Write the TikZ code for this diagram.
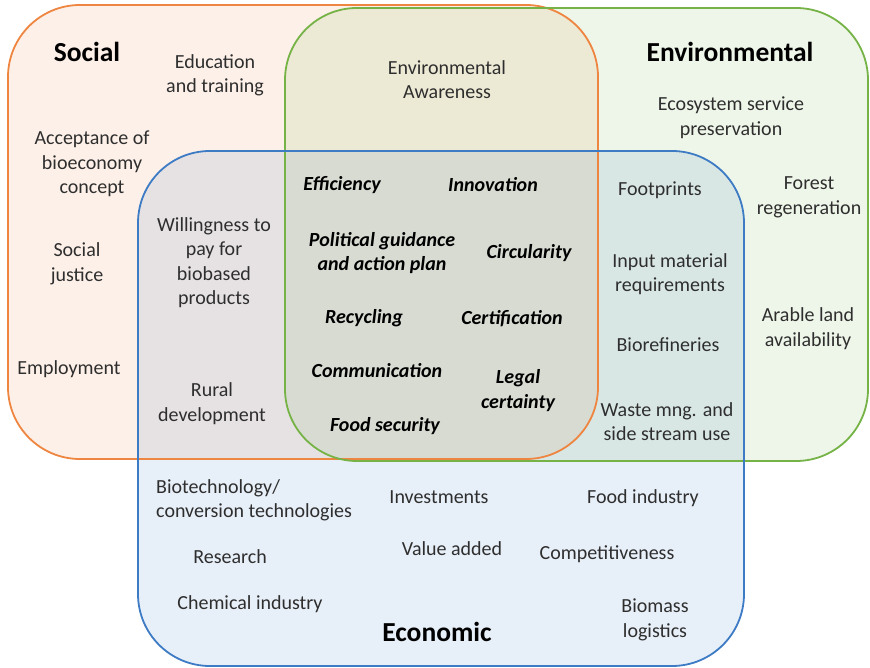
\documentclass[tikz,border=0pt]{standalone}
\usepackage{fontspec}
\setmainfont{Carlito}
\definecolor{socialc}{HTML}{EE8540}
\definecolor{envc}{HTML}{76B347}
\definecolor{econc}{HTML}{3D7BC4}
\definecolor{txt}{HTML}{2E2E2E}
\tikzset{
  area/.style={line width=1.8pt, rounded corners=72pt, fill opacity=0.12},
  item/.style={font=\fontsize{20}{24.5}\selectfont, text=txt, align=center, inner sep=0pt},
  key/.style={font=\fontsize{20}{24.5}\selectfont\bfseries\itshape, text=black, align=center, inner sep=0pt},
  head/.style={font=\fontsize{27.5}{30}\selectfont\bfseries, text=black, inner sep=0pt}
}
\begin{document}
\begin{tikzpicture}[x=1pt,y=-1pt]
\useasboundingbox (0,0) rectangle (870,668);
% translucent areas of the three dimensions
\fill[area, socialc] (8,5) rectangle (598,459);
\fill[area, envc] (285,8) rectangle (868,461);
\fill[area, econc] (138,151) rectangle (744,666);
% outlines
\draw[area, draw=socialc, fill=none] (8,5) rectangle (598,459);
\draw[area, draw=envc, fill=none] (285,8) rectangle (868,461);
\draw[area, draw=econc, fill=none] (138,151) rectangle (744,666);

% headings
\node[head] (social) at (87,52) {Social};
\node[head] (environmental) at (730,52) {Environmental};
\node[head] (economic) at (437,632) {Economic};

% social only
\node[item] (edu) at (215,75.5) {Education\\and training};
\node[item] (accept) at (92,164) {Acceptance of\\bioeconomy\\concept};
\node[item] (justice) at (77,264) {Social\\justice};
\node[item] (employ) at (69,369) {Employment};

% social and economic
\node[item] (willing) at (214,262.5) {Willingness to\\pay for\\biobased\\products};
\node[item] (rural) at (212,403.5) {Rural\\development};

% social and environmental
\node[item] (awareness) at (447,79.5) {Environmental\\Awareness};

% all three dimensions
\node[key] (eff) at (342,185) {Efficiency};
\node[key] (inno) at (493,185) {Innovation};
\node[key] (polit) at (382,253) {Political guidance\\and action plan};
\node[key] (circ) at (529,253) {Circularity};
\node[key] (recyc) at (364,318) {Recycling};
\node[key] (cert) at (512,319) {Certification};
\node[key] (comm) at (377,371) {Communication};
\node[key] (legal) at (518,390.5) {Legal\\certainty};
\node[key] (food) at (385,426) {Food security};

% environmental only
\node[item] (ecosys) at (731,117.5) {Ecosystem service\\preservation};
\node[item] (forest) at (809,197.5) {Forest\\regeneration};
\node[item] (arable) at (808,328.5) {Arable land\\availability};

% environmental and economic
\node[item] (foot) at (660,190) {Footprints};
\node[item] (input) at (670,274) {Input material\\requirements};
\node[item] (biore) at (668,345) {Biorefineries};
\node[item] (waste) at (667,421.5) {Waste mng. and\\side stream use};

% economic only
\node[item, align=left, anchor=west] (biotech) at (156,500.5) {Biotechnology/\\conversion technologies};
\node[item] (invest) at (439,497) {Investments};
\node[item] (foodind) at (643,498) {Food industry};
\node[item] (research) at (230,557) {Research};
\node[item] (value) at (452,549) {Value added};
\node[item] (compet) at (607,554) {Competitiveness};
\node[item] (chem) at (250,604) {Chemical industry};
\node[item] (biomass) at (655,620) {Biomass\\logistics};
\end{tikzpicture}
\end{document}
